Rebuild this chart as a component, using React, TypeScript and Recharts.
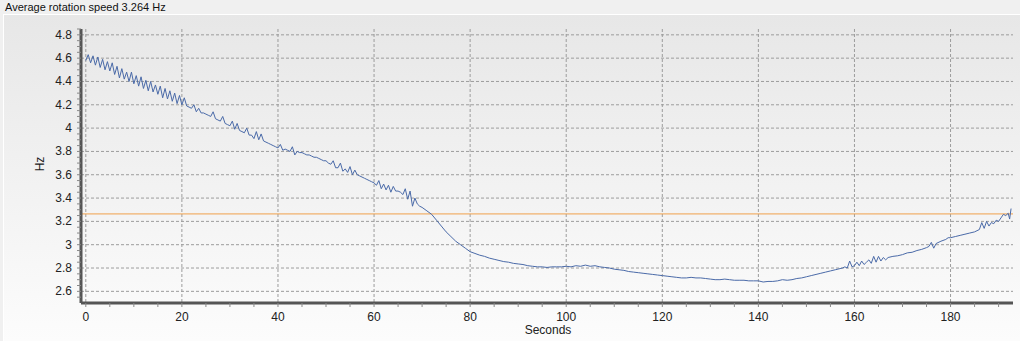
import {
  LineChart,
  Line,
  XAxis,
  YAxis,
  CartesianGrid,
  ReferenceLine,
} from "recharts";

const seconds1 = [
  0, 0.5, 1, 1.5, 2, 2.5, 3, 3.5, 4, 4.5,
  5, 5.5, 6, 6.5, 7, 7.5, 8, 8.5, 9, 9.5,
  10, 10.5, 11, 11.5, 12, 12.5, 13, 13.5, 14, 14.5,
  15, 15.5, 16, 16.5, 17, 17.5, 18, 18.5, 19, 19.5,
  20, 20.5, 21,
];
const hz1 = [
  4.58, 4.63, 4.56, 4.62, 4.54, 4.61, 4.52, 4.59, 4.5, 4.57,
  4.49, 4.56, 4.46, 4.53, 4.43, 4.51, 4.42, 4.48, 4.4, 4.48,
  4.38, 4.45, 4.36, 4.44, 4.34, 4.41, 4.32, 4.4, 4.31, 4.37,
  4.29, 4.36, 4.26, 4.34, 4.25, 4.32, 4.23, 4.3, 4.21, 4.28,
  4.2, 4.26, 4.19,
];

const seconds2 = [
  21.5, 22, 22.5, 23, 23.5, 24, 24.5, 25, 25.5, 26,
  26.5, 27, 27.5, 28, 28.5, 29, 29.5, 30, 30.5, 31,
  31.5, 32, 32.5, 33, 33.5, 34, 34.5, 35, 35.5, 36,
  36.5, 37, 37.5, 38, 38.5, 39, 39.5, 40, 40.5, 41,
  41.5, 42, 42.5, 43, 43.5, 44, 44.5, 45, 45.5, 46,
  46.5, 47, 47.5, 48, 48.5, 49, 49.5, 50, 50.5, 51,
  51.5, 52, 52.5, 53, 53.5, 54, 54.5, 55, 55.5, 56,
  56.5, 57, 57.5, 58, 58.5, 59, 59.5, 60, 60.5, 61,
  61.5, 62, 62.5, 63, 63.5, 64, 64.5, 65, 65.5, 66,
  66.5, 67, 67.5, 68, 68.5, 69, 69.5, 70,
];
const hz2 = [
  4.18, 4.17, 4.2, 4.14, 4.17, 4.13, 4.13, 4.12, 4.11, 4.1,
  4.14, 4.08, 4.07, 4.06, 4.1, 4.04, 4.03, 4.02, 4.06, 3.99,
  4.04, 3.98, 3.97, 3.96, 4.0, 3.94, 3.94, 3.91, 3.97, 3.9,
  3.95, 3.89, 3.88, 3.87, 3.86, 3.85, 3.84, 3.83, 3.86, 3.81,
  3.82, 3.81, 3.8, 3.84, 3.77, 3.8, 3.79, 3.79, 3.78, 3.77,
  3.77, 3.76, 3.75, 3.75, 3.74, 3.73, 3.72, 3.72, 3.7, 3.69,
  3.72, 3.66, 3.66, 3.7, 3.63, 3.65, 3.62, 3.67, 3.6, 3.64,
  3.6, 3.59, 3.58, 3.57, 3.56, 3.55, 3.54, 3.53, 3.51, 3.55,
  3.48, 3.52, 3.47, 3.51, 3.45, 3.5, 3.46, 3.46, 3.45, 3.43,
  3.48, 3.39, 3.46, 3.33, 3.4, 3.35, 3.33, 3.32,
];

const seconds3 = [
  71, 72, 73, 74, 75, 76, 77, 78, 79, 80,
  81, 82, 83, 84, 85, 86, 87, 88, 89, 90,
  91, 92, 93, 94, 95, 96, 97, 98, 99, 100,
  101, 102, 103, 104, 105, 106, 107, 108, 109, 110,
  111, 112, 113, 114, 115, 116, 117, 118, 119, 120,
  121, 122, 123, 124, 125, 126, 127, 128, 129, 130,
  131, 132, 133, 134, 135, 136, 137, 138, 139, 140,
  141, 142, 143, 144, 145, 146, 147, 148, 149, 150,
  151, 152, 153, 154, 155,
];
const hz3 = [
  3.29, 3.26, 3.21, 3.16, 3.11, 3.07, 3.03, 3.0, 2.97, 2.94,
  2.925, 2.91, 2.9, 2.885, 2.875, 2.865, 2.855, 2.85, 2.84, 2.835,
  2.83, 2.82, 2.815, 2.81, 2.81, 2.805, 2.81, 2.81, 2.81, 2.815,
  2.81, 2.82, 2.815, 2.825, 2.815, 2.82, 2.81, 2.805, 2.8, 2.79,
  2.785, 2.78, 2.77, 2.765, 2.76, 2.755, 2.75, 2.745, 2.74, 2.735,
  2.73, 2.725, 2.72, 2.715, 2.715, 2.72, 2.715, 2.715, 2.71, 2.705,
  2.7, 2.7, 2.705, 2.7, 2.695, 2.695, 2.695, 2.69, 2.69, 2.69,
  2.68, 2.685, 2.685, 2.69, 2.7, 2.695, 2.7, 2.71, 2.715, 2.725,
  2.735, 2.745, 2.755, 2.765, 2.775,
];

const seconds4 = [
  156, 157, 157.5, 158, 158.5, 159, 159.5, 160, 160.5, 161,
  161.5, 162, 162.5, 163, 163.5, 164, 164.5, 165, 165.5, 166,
  166.5, 167, 168, 169, 170, 171, 172, 173, 174, 175,
  175.5, 176, 176.5, 177, 178, 179, 179.5, 180, 181, 182,
  183, 184, 185, 185.5, 186, 186.5, 187, 187.5, 188, 188.5,
  189, 189.5, 190, 190.5, 191, 191.5, 192, 192.3, 192.6,
];
const hz4 = [
  2.785, 2.795, 2.8, 2.81, 2.8, 2.86, 2.81, 2.82, 2.85, 2.82,
  2.86, 2.83, 2.85, 2.87, 2.84, 2.9, 2.85, 2.9, 2.86, 2.89,
  2.87, 2.89, 2.9, 2.905, 2.915, 2.93, 2.935, 2.95, 2.96, 2.975,
  2.985, 3.02, 2.97, 3.01, 3.03, 3.045, 3.06, 3.06, 3.07, 3.08,
  3.09, 3.1, 3.11, 3.12, 3.13, 3.19, 3.14, 3.2, 3.16, 3.19,
  3.18, 3.21, 3.2, 3.23, 3.26, 3.25, 3.27, 3.22, 3.31,
];

const averageHz = 3.264;

const xMajor = [0, 20, 40, 60, 80, 100, 120, 140, 160, 180];
const yMajor = [2.6, 2.8, 3, 3.2, 3.4, 3.6, 3.8, 4, 4.2, 4.4, 4.6, 4.8];

// minor tick marks: every 5 s and every 0.05 Hz
const xMinor = Array.from({ length: 39 }, (_, i) => i * 5);
const yMinor = Array.from({ length: 47 }, (_, i) => +(2.55 + i * 0.05).toFixed(2));

const seconds = [...seconds1, ...seconds2, ...seconds3, ...seconds4];
const hz = [...hz1, ...hz2, ...hz3, ...hz4];
const data = seconds.map((s, i) => ({ s, hz: hz[i] }));

const font = "'Liberation Sans', Arial, sans-serif";

const XTick = (props: any) => {
  const { x, y, payload } = props;
  if (payload.value % 20 !== 0) return <g />;
  return (
    <text x={x} y={y} dy={10} textAnchor="middle" fontSize={12} fontFamily={font} fill="#222">
      {payload.value}
    </text>
  );
};

const YTick = (props: any) => {
  const { x, y, payload } = props;
  const v = payload.value;
  if (Math.abs(v * 5 - Math.round(v * 5)) > 1e-6) return <g />;
  return (
    <text x={x} y={y} dy={4} textAnchor="end" fontSize={12} fontFamily={font} fill="#222">
      {String(+v.toFixed(1))}
    </text>
  );
};

export default function App() {
  return (
    <div
      style={{
        position: "absolute",
        left: 0,
        top: 0,
        width: 1020,
        height: 341,
        overflow: "hidden",
        background: "#f0f0f0",
        fontFamily: font,
      }}
    >
      <div style={{ position: "absolute", left: 5, top: 0, fontSize: 11, color: "#111", lineHeight: "14px" }}>
        Average rotation speed 3.264 Hz
      </div>
      <div
        style={{
          position: "absolute",
          left: 3,
          top: 14,
          right: 0,
          bottom: 0,
          borderTop: "1px solid #fff",
          borderLeft: "1px solid #fff",
          background: "linear-gradient(#e7e7e7, #fcfcfc)",
        }}
      />
      <div style={{ position: "absolute", left: 0, top: 0 }}>
        <LineChart width={1020} height={341} data={data} margin={{ top: 29, right: 7, bottom: 8, left: 31 }}>
          <CartesianGrid
            horizontalValues={yMajor}
            verticalValues={xMajor}
            stroke="#9c9c9c"
            strokeDasharray="3 2"
          />
          <XAxis
            dataKey="s"
            type="number"
            domain={[-1, 193]}
            ticks={xMinor}
            interval={0}
            height={30}
            tick={<XTick />}
            tickSize={4}
            tickMargin={4}
            axisLine={{ stroke: "#555", strokeWidth: 3 }}
            tickLine={{ stroke: "#888", strokeWidth: 1 }}
            allowDataOverflow
          />
          <YAxis
            type="number"
            domain={[2.5, 4.85]}
            ticks={yMinor}
            interval={0}
            width={50}
            tick={<YTick />}
            tickSize={4}
            tickMargin={5}
            axisLine={{ stroke: "#555", strokeWidth: 3 }}
            tickLine={{ stroke: "#888", strokeWidth: 1 }}
            allowDataOverflow
          />
          <ReferenceLine y={averageHz} stroke="#f0a04b" strokeWidth={1} />
          <Line
            type="linear"
            dataKey="hz"
            stroke="#4a6aa8"
            strokeWidth={1}
            dot={false}
            isAnimationActive={false}
          />
        </LineChart>
      </div>
      <div
        style={{
          position: "absolute",
          left: 40,
          top: 164,
          fontSize: 12,
          color: "#222",
          transform: "translate(-50%, -50%) rotate(-90deg)",
          transformOrigin: "center",
          lineHeight: "14px",
          whiteSpace: "nowrap",
        }}
      >
        <span style={{ display: "inline-block" }}>Hz</span>
      </div>
      <div
        style={{
          position: "absolute",
          left: 548,
          top: 323,
          fontSize: 12,
          color: "#222",
          transform: "translateX(-50%)",
          lineHeight: "14px",
          whiteSpace: "nowrap",
        }}
      >
        Seconds
      </div>
    </div>
  );
}
